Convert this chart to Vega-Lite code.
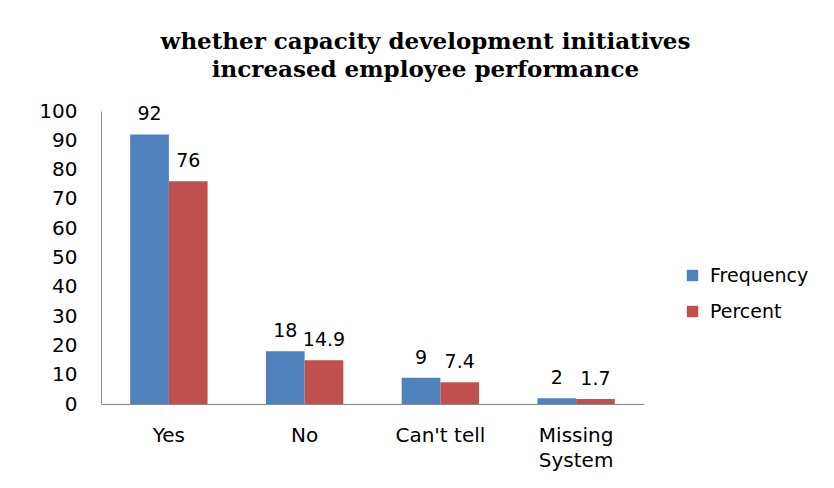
{
  "$schema": "https://vega.github.io/schema/vega-lite/v6.json",
  "autosize": {"type": "none"},
  "width": 543,
  "height": 293,
  "padding": {"left": 101, "top": 111, "right": 190, "bottom": 84},
  "background": "white",
  "title": {
    "text": ["whether capacity development initiatives", "increased employee performance"],
    "font": "DejaVu Serif",
    "fontWeight": "bold",
    "fontSize": 23,
    "lineHeight": 28,
    "color": "black",
    "anchor": "middle",
    "dx": 53,
    "offset": 19
  },
  "data": {
    "values": [
      {"category": "Yes", "series": "Frequency", "value": 92},
      {"category": "Yes", "series": "Percent", "value": 76},
      {"category": "No", "series": "Frequency", "value": 18},
      {"category": "No", "series": "Percent", "value": 14.9},
      {"category": "Can't tell", "series": "Frequency", "value": 9},
      {"category": "Can't tell", "series": "Percent", "value": 7.4},
      {"category": "Missing System", "series": "Frequency", "value": 2},
      {"category": "Missing System", "series": "Percent", "value": 1.7}
    ]
  },
  "encoding": {
    "x": {
      "field": "category",
      "type": "nominal",
      "sort": ["Yes", "No", "Can't tell", "Missing System"],
      "scale": {"paddingInner": 0.43, "paddingOuter": 0.215},
      "axis": {
        "title": null,
        "labelAngle": 0,
        "ticks": false,
        "domainColor": "#888888",
        "labelFont": "DejaVu Sans",
        "labelFontSize": 20,
        "labelColor": "black",
        "labelPadding": 31,
        "labelLineHeight": 25,
        "labelBaseline": "middle",
        "labelExpr": "datum.label == 'Missing System' ? ['Missing', 'System'] : datum.label"
      }
    },
    "xOffset": {"field": "series", "type": "nominal", "sort": ["Frequency", "Percent"]},
    "y": {
      "field": "value",
      "type": "quantitative",
      "scale": {"domain": [0, 100], "nice": false},
      "axis": {
        "title": null,
        "values": [0, 10, 20, 30, 40, 50, 60, 70, 80, 90, 100],
        "grid": false,
        "ticks": false,
        "domainColor": "#888888",
        "labelFont": "DejaVu Sans",
        "labelFontSize": 20,
        "labelColor": "black",
        "labelPadding": 24
      }
    }
  },
  "layer": [
    {
      "mark": {"type": "bar"},
      "encoding": {
        "color": {
          "field": "series",
          "type": "nominal",
          "sort": ["Frequency", "Percent"],
          "scale": {"domain": ["Frequency", "Percent"], "range": ["#4F81BD", "#C0504D"]},
          "legend": {
            "title": null,
            "orient": "none",
            "legendX": 582,
            "legendY": 155,
            "symbolType": "square",
            "symbolSize": 130,
            "symbolStrokeWidth": 0,
            "labelFont": "DejaVu Sans",
            "labelFontSize": 19,
            "labelColor": "black",
            "labelOffset": 8,
            "rowPadding": 16
          }
        }
      }
    },
    {
      "mark": {"type": "text", "baseline": "alphabetic", "dy": -14, "font": "DejaVu Sans", "fontSize": 19, "color": "black"},
      "encoding": {
        "text": {"field": "value", "type": "quantitative"}
      }
    }
  ],
  "config": {
    "view": {"stroke": null}
  }
}
